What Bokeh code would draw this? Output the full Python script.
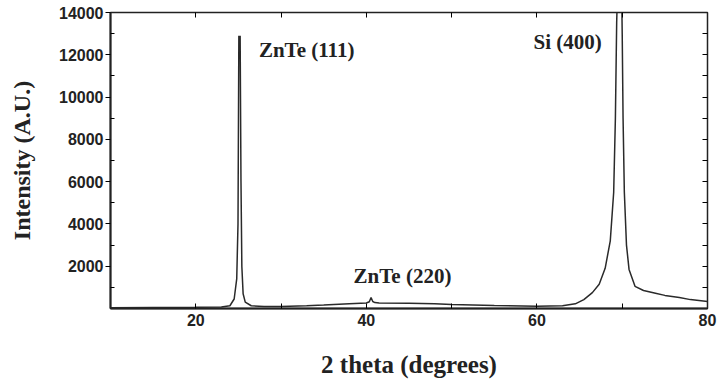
from bokeh.plotting import figure
from bokeh.models import Range1d, FixedTicker, LinearAxis, Label, CustomLabelingPolicy
from bokeh.embed import file_html
from bokeh.resources import INLINE

# XRD pattern
two_theta = [10, 15, 20, 23, 24, 24.5, 24.8, 24.95, 25.05, 25.1, 25.15, 25.2, 25.3,
             25.4, 25.55, 25.8, 26.5, 28, 30, 33, 35, 38, 40, 40.35, 40.55, 40.75,
             41.0, 41.5, 45, 48, 50, 55, 60, 63, 64.5, 65.5, 66.5, 67.3, 68.0, 68.6,
             69.0, 69.2, 69.35, 69.5, 69.9, 70.0, 70.1, 70.25, 70.5, 70.8, 71.5, 72.5,
             73.9, 75, 76.7, 78, 80]
intensity = [40, 50, 60, 70, 130, 450, 1400, 4000, 12900, 12500, 12000, 12900, 6000,
             2000, 700, 300, 130, 100, 100, 130, 160, 220, 260, 320, 520, 330,
             280, 260, 250, 220, 190, 140, 110, 130, 220, 420, 750, 1150, 1900, 3200,
             5500, 9000, 13500, 16000, 16000, 13000, 9000, 5500, 3000, 1850, 1050, 850,
             720, 620, 520, 420, 330]

peak_labels = ["ZnTe (111)", "ZnTe (220)", "Si (400)"]
label_x = [27.4, 38.5, 59.6]
label_y = [12250, 1550, 12600]

y_major = [2000, 4000, 6000, 8000, 10000, 12000, 14000]
y_minor = [1000, 3000, 5000, 7000, 9000, 11000, 13000]
x_major = [20, 40, 60, 80]
x_minor = [30, 50, 70]
top_ticks = [20, 30, 40, 50, 60, 70]
right_ticks = [1000 * i for i in range(1, 14)]

INK = "#222222"

p = figure(width=717, height=388, output_backend="svg", toolbar_location=None,
           x_range=Range1d(10, 80), y_range=Range1d(0, 14000),
           min_border_left=110, min_border_right=10, min_border_top=12,
           min_border_bottom=80)
p.background_fill_color = "white"
p.border_fill_color = "white"
p.grid.visible = False
p.outline_line_color = INK
p.outline_line_width = 1.5

p.line(two_theta, intensity, line_color="#2a2a2a", line_width=1.5)

# bottom axis
xa = p.xaxis[0]
xa.ticker = FixedTicker(ticks=x_major, minor_ticks=x_minor)
xa.axis_label = "2 theta (degrees)"
xa.axis_label_text_font = "Liberation Serif"
xa.axis_label_text_font_style = "bold"
xa.axis_label_text_font_size = "25px"
xa.axis_label_text_color = INK
xa.axis_label_standoff = 22
xa.major_label_text_font = "Liberation Sans"
xa.major_label_text_font_style = "bold"
xa.major_label_text_font_size = "16px"
xa.major_label_text_color = INK
xa.major_label_standoff = 5
xa.major_tick_in = 5
xa.major_tick_out = 0
xa.minor_tick_in = 5
xa.minor_tick_out = 0
xa.axis_line_width = 2
xa.axis_line_color = INK

# left axis
ya = p.yaxis[0]
ya.ticker = FixedTicker(ticks=y_major, minor_ticks=y_minor)
ya.axis_label = "Intensity (A.U.)"
ya.axis_label_text_font = "Liberation Serif"
ya.axis_label_text_font_style = "bold"
ya.axis_label_text_font_size = "24px"
ya.axis_label_text_color = INK
ya.axis_label_standoff = 21
ya.major_label_text_font = "Liberation Sans"
ya.major_label_text_font_style = "bold"
ya.major_label_text_font_size = "16px"
ya.major_label_text_color = INK
ya.major_label_standoff = 2
ya.major_tick_in = 0
ya.major_tick_out = 5
ya.minor_tick_in = 4
ya.minor_tick_out = 0
ya.axis_line_width = 2
ya.axis_line_color = INK

no_labels = CustomLabelingPolicy(code="""
    for (const i of indices) { indices.unset(i) }
    return indices
""")

# top and right frame axes with inner ticks only
top = LinearAxis(ticker=FixedTicker(ticks=top_ticks, minor_ticks=[]),
                 major_label_policy=no_labels, major_label_text_font_size="1px",
                 major_tick_in=5, major_tick_out=0,
                 minor_tick_in=0, minor_tick_out=0, axis_line_color=INK,
                 major_label_standoff=0)
p.add_layout(top, "above")
right = LinearAxis(ticker=FixedTicker(ticks=right_ticks, minor_ticks=[]),
                   major_label_policy=no_labels, major_label_text_font_size="1px",
                   major_tick_in=5, major_tick_out=0,
                   minor_tick_in=0, minor_tick_out=0, axis_line_color=INK,
                   major_label_standoff=0)
p.add_layout(right, "right")

for txt, lx, ly in zip(peak_labels, label_x, label_y):
    p.add_layout(Label(x=lx, y=ly, text=txt, text_font="Liberation Serif",
                       text_font_style="bold", text_font_size="21px",
                       text_color=INK, text_baseline="middle", text_align="left"))

open("out.html", "w").write(file_html(p, INLINE))
